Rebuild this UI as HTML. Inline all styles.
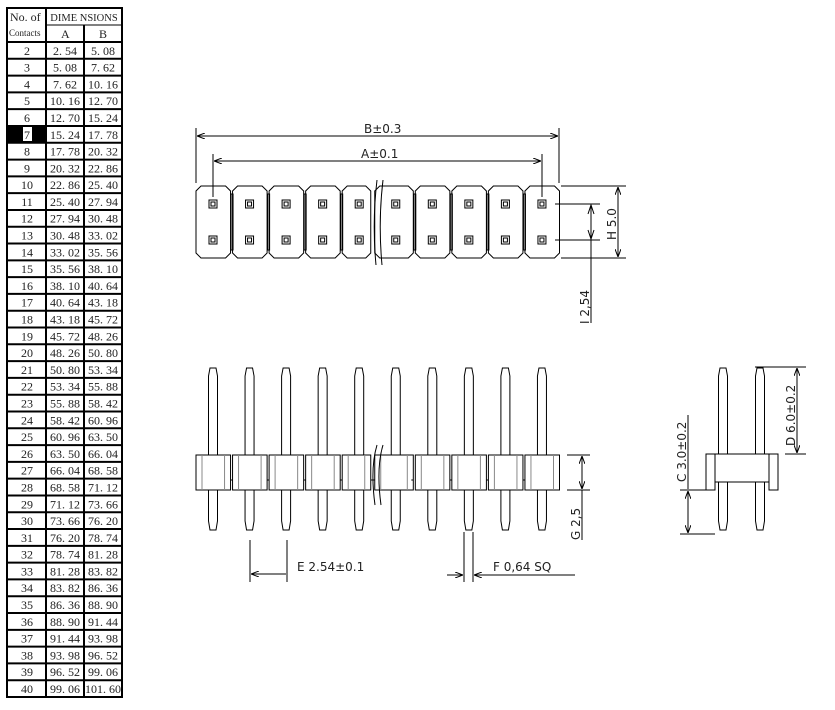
<!DOCTYPE html>
<html><head><meta charset="utf-8"><style>
html,body{margin:0;padding:0;background:#fff;}
svg{display:block;}
.t{font-family:"Liberation Serif","Noto Serif CJK SC",serif;font-size:12px;fill:#222;}
.d{font-family:"DejaVu Sans","Liberation Sans",sans-serif;font-size:12px;fill:#222;}
</style></head><body>
<svg id="s" width="835" height="710" viewBox="0 0 835 710" xmlns="http://www.w3.org/2000/svg" stroke="#000" fill="none" stroke-width="1">
<defs><marker id="a" markerWidth="8" markerHeight="6" refX="8" refY="3" orient="auto-start-reverse" markerUnits="userSpaceOnUse"><path d="M0,0 L8,3 L0,6" fill="none" stroke="#000"/></marker></defs>
<g id="tbl" stroke="#000" stroke-width="2">
<rect x="7" y="8" width="115" height="689"/>
<line x1="46" y1="8" x2="46" y2="697"/>
<line x1="84" y1="25" x2="84" y2="697"/>
<line x1="46" y1="25" x2="122" y2="25" stroke-width="1"/>
</g>
<rect x="8" y="126" width="38" height="16" fill="#000" stroke="none"/>
<rect x="23" y="127" width="9" height="14" fill="#fff" stroke="none"/>
<g id="txt" stroke="none"></g>
<g id="top"></g>
<line x1="196" y1="128" x2="196" y2="183"/>
<line x1="559" y1="128" x2="559" y2="183"/>
<line x1="197" y1="136" x2="558" y2="136" marker-start="url(#a)" marker-end="url(#a)"/>
<line x1="213" y1="154" x2="213" y2="197"/>
<line x1="542" y1="154" x2="542" y2="197"/>
<line x1="214" y1="161" x2="541" y2="161" marker-start="url(#a)" marker-end="url(#a)"/>
<text class="d" x="364" y="133" stroke="none">B±0.3</text>
<text class="d" x="361" y="158" stroke="none">A±0.1</text>
<line x1="561" y1="186" x2="626" y2="186"/>
<line x1="561" y1="258" x2="626" y2="258"/>
<line x1="618" y1="187" x2="618" y2="257" marker-start="url(#a)" marker-end="url(#a)"/>
<line x1="555" y1="204" x2="600" y2="204"/>
<line x1="555" y1="240" x2="600" y2="240"/>
<line x1="591" y1="205" x2="591" y2="323" />
<path d="M588,214 L591,205 L594,214 M588,230 L591,239 L594,230"/>
<text class="d" transform="translate(616,240) rotate(-90)" stroke="none">H  5.0</text>
<text class="d" transform="translate(589,324) rotate(-90)" stroke="none">I  2,54</text>
<g id="side"></g>
<line x1="250" y1="540" x2="250" y2="582"/>
<line x1="287" y1="540" x2="287" y2="582"/>
<line x1="251" y1="574" x2="286" y2="574" marker-start="url(#a)"/>
<text class="d" x="297" y="571" stroke="none">E  2.54±0.1</text>
<line x1="464" y1="532" x2="464" y2="582"/>
<line x1="473" y1="532" x2="473" y2="582"/>
<line x1="447" y1="575" x2="463" y2="575" marker-end="url(#a)"/>
<line x1="474" y1="575" x2="575" y2="575" marker-start="url(#a)"/>
<text class="d" x="493" y="571" stroke="none">F  0,64     SQ</text>
<line x1="567" y1="455" x2="590" y2="455"/>
<line x1="567" y1="490" x2="590" y2="490"/>
<line x1="582" y1="456" x2="582" y2="489" marker-start="url(#a)" marker-end="url(#a)"/>
<line x1="582" y1="490" x2="582" y2="540"/>
<text class="d" transform="translate(580,540) rotate(-90)" stroke="none">G  2,5</text>
<g id="endv"></g>
<line x1="755" y1="367" x2="806" y2="367"/>
<line x1="785" y1="454" x2="806" y2="454"/>
<line x1="797" y1="368" x2="797" y2="453" marker-start="url(#a)" marker-end="url(#a)"/>
<text class="d" transform="translate(795,446) rotate(-90)" stroke="none">D  6.0±0.2</text>
<line x1="680" y1="490" x2="706" y2="490"/>
<line x1="680" y1="534" x2="715" y2="534"/>
<line x1="688" y1="415" x2="688" y2="489"/>
<line x1="688" y1="491" x2="688" y2="533" marker-start="url(#a)" marker-end="url(#a)"/>
<text class="d" transform="translate(686,482) rotate(-90)" stroke="none">C  3.0±0.2</text>
</svg>
<script>
var NS="http://www.w3.org/2000/svg";
function el(p,t,a,txt){var e=document.createElementNS(NS,t);for(var k in a)e.setAttribute(k,a[k]);if(txt!=null)e.textContent=txt;p.appendChild(e);return e;}
var tb=document.getElementById('tbl'),tx=document.getElementById('txt');
el(tx,'text',{class:'t',x:10,y:21},'No. of');
el(tx,'text',{class:'t',x:9,y:36,style:'font-size:9px'},'Contacts');
el(tx,'text',{class:'t',x:84,y:21,'text-anchor':'middle',style:'font-size:10.5px'},'DIME NSIONS');
el(tx,'text',{class:'t',x:61,y:38},'A');
el(tx,'text',{class:'t',x:99,y:38},'B');
var y0=42,h=(697-42)/39;
for(var i=0;i<39;i++){var y=y0+i*h;
 el(tb,'line',{x1:7,y1:y,x2:122,y2:y});
 var n=i+2,A=(i+1)*2.54,B=(i+2)*2.54;
 var f=function(v){return v.toFixed(2).replace('.','. ');};
 el(tx,'text',{class:'t',x:27,y:y+12.8,'text-anchor':'middle',fill:(n==7?'#000':'#222')},String(n));
 el(tx,'text',{class:'t',x:65,y:y+12.8,'text-anchor':'middle'},f(A));
 el(tx,'text',{class:'t',x:103,y:y+12.8,'text-anchor':'middle'},f(B));
}
var tp=document.getElementById('top'),P=36.55,L=196;
for(var i=0;i<10;i++){var x=L+i*P,w=P-2,c=5,yt=186,yb=258;
 if(i==4)w=P-8; if(i==5){x=L+i*P-4;w=P-2+4;}
 el(tp,'path',{d:'M'+(x+c)+','+yt+'H'+(x+w-c)+'L'+(x+w)+','+(yt+c)+'V'+(yb-c)+'L'+(x+w-c)+','+yb+'H'+(x+c)+'L'+x+','+(yb-c)+'V'+(yt+c)+'Z'});
 var cx=L+17+i*P;
 [204,240].forEach(function(yy){el(tp,'rect',{x:cx-4,y:yy-4,width:8,height:8});el(tp,'rect',{x:cx-2,y:yy-2,width:4,height:4});});
 if(i<9 && i!=4) el(tp,'rect',{x:x+w-1+1.5,y:194,width:2,height:56});
}
el(tp,'path',{d:'M377,180 Q372,222 376,265 M383,180 Q378,222 382,265',stroke:'#000'});
var sd=document.getElementById('side');
for(var i=0;i<10;i++){var cx=L+17+i*P;
 el(sd,'path',{d:'M'+(cx-4.5)+',455 V376 L'+(cx-3)+',368 H'+(cx+3)+' L'+(cx+4.5)+',376 V455'});
 el(sd,'path',{d:'M'+(cx-4.5)+',490 V521 L'+(cx-3)+',530 H'+(cx+3)+' L'+(cx+4.5)+',521 V490'});
 var x=L+i*P,w=P-2; if(i==4)w=P-8; if(i==5){x-=4;w+=4;}
 el(sd,'rect',{x:x,y:455,width:w,height:35,fill:'#fff'});
 el(sd,'line',{x1:x+6,y1:455,x2:x+6,y2:490,stroke:'#888'});
 el(sd,'line',{x1:x+w-6,y1:455,x2:x+w-6,y2:490,stroke:'#888'});
 if(i<9) el(sd,'line',{x1:x+w,y1:480,x2:x+P,y2:480});
}
el(sd,'path',{d:'M377,445 Q370,468 375,505 M383,445 Q376,468 381,505'});
var ev=document.getElementById('endv');
[723,760].forEach(function(cx){
 el(ev,'path',{d:'M'+(cx-4.5)+',455 V376 L'+(cx-3)+',368 H'+(cx+3)+' L'+(cx+4.5)+',376 V455'});
 el(ev,'path',{d:'M'+(cx-4.5)+',482 V521 L'+(cx-3)+',530 H'+(cx+3)+' L'+(cx+4.5)+',521 V482'});
});
el(ev,'rect',{x:706,y:454,width:72,height:28,fill:'#fff'});
el(ev,'rect',{x:706,y:454,width:9,height:36,fill:'#fff'});
el(ev,'rect',{x:769,y:454,width:9,height:36,fill:'#fff'});
</script>
</body></html>
